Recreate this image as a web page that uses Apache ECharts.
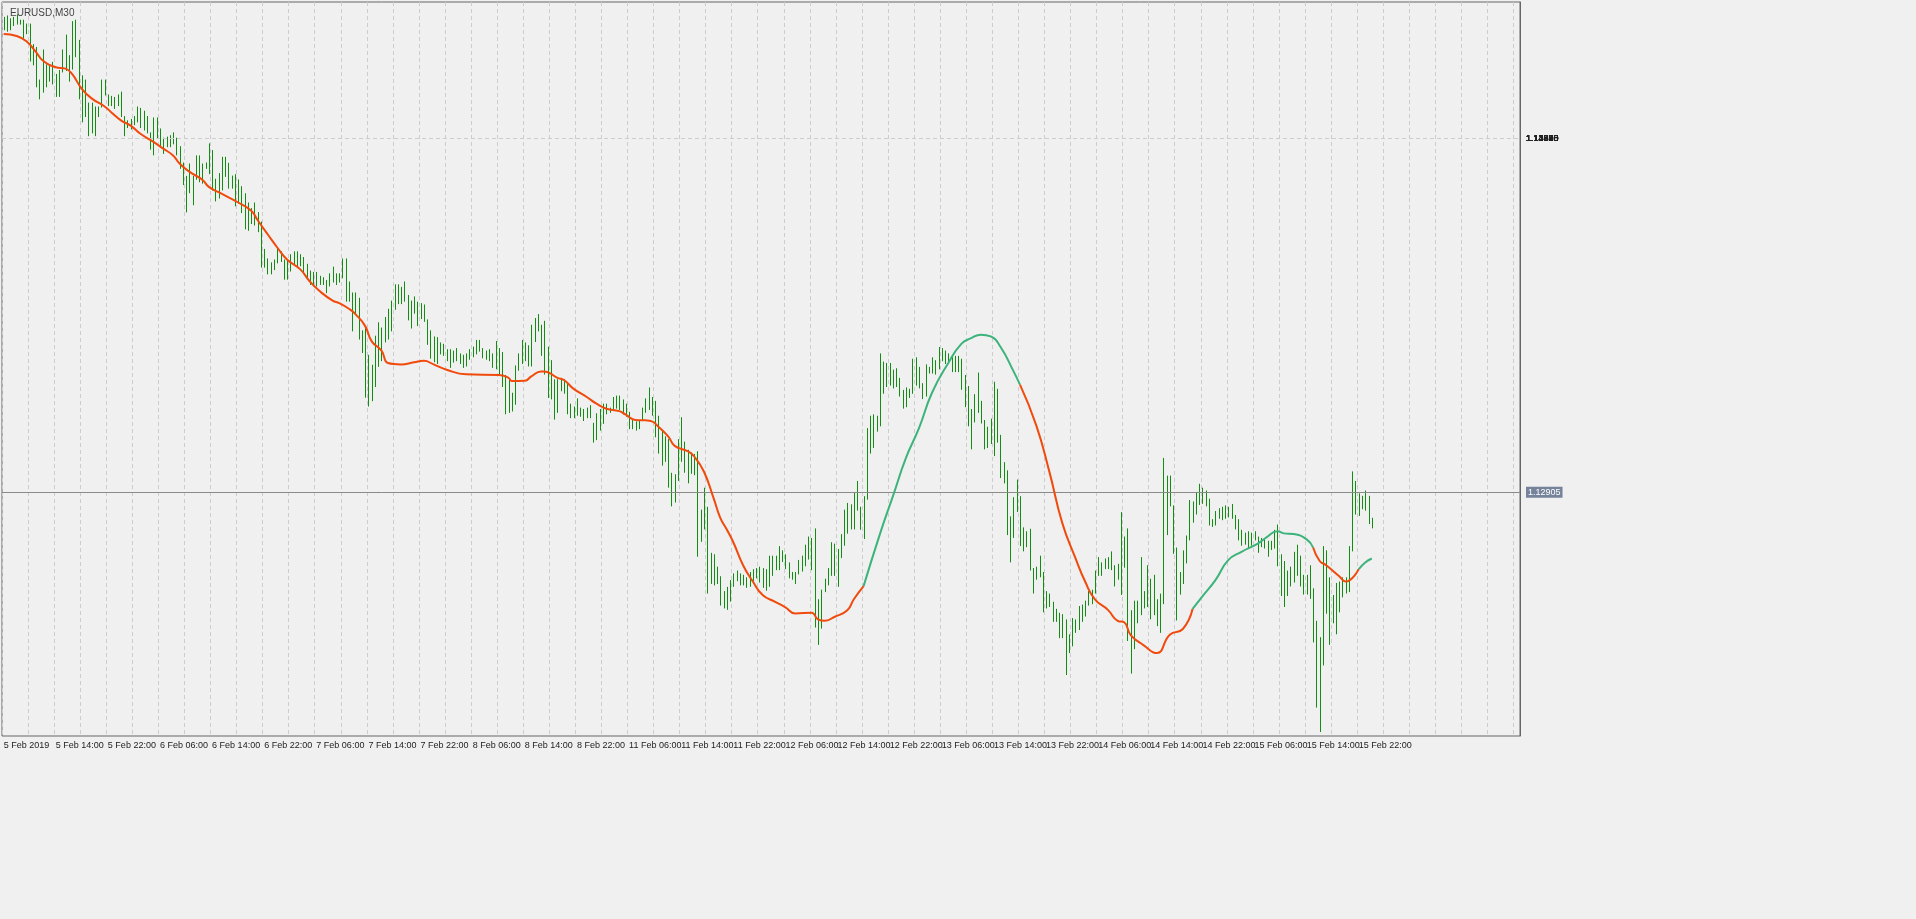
<!DOCTYPE html>
<html>
<head>
<meta charset="utf-8">
<script src="https://cdn.jsdelivr.net/npm/echarts@6/dist/echarts.min.js"></script>
<style>
html, body { margin: 0; padding: 0; background: #f0f0f0; }
#chart { width: 1916px; height: 919px; }
</style>
</head>
<body>
<div id="chart"></div>
<script>
// EURUSD M30, prices in points (1e-5)
const highPts = [
114342,114346,114338,114342,114349,114334,114334,114323,114323,114265,114257,114165,114250,114208,114204,114215,
114181,114192,114250,114292,114234,114330,114334,114277,114177,114165,114100,114100,114089,114089,114165,114165,
114123,114119,114116,114123,114131,114062,114050,114054,114062,114089,114085,114077,114062,114016,114058,114058,
114027,114001,114004,114008,114016,114001,113977,113931,113893,113928,113893,113951,113951,113928,113931,113985,
113966,113885,113901,113947,113947,113930,113894,113898,113883,113864,113844,113818,113802,113818,113791,113764,
113687,113660,113649,113657,113691,113680,113657,113653,113672,113680,113680,113672,113664,113645,113626,113622,
113622,113611,113607,113599,113618,113637,113618,113618,113660,113660,113595,113564,113564,113549,113457,113465,
113388,113360,113442,113480,113465,113495,113518,113541,113587,113587,113580,113595,113557,113541,113553,113538,
113534,113530,113488,113457,113440,113438,113423,113419,113404,113404,113400,113407,113392,113388,113392,113404,
113411,113430,113430,113407,113400,113404,113392,113427,113407,113396,113331,113319,113281,113358,113392,113430,
113423,113415,113473,113492,113503,113473,113484,113411,113373,113319,113319,113323,113319,113311,113250,113242,
113265,113239,113235,113239,113246,113196,113223,113235,113250,113250,113239,113269,113273,113273,113262,113250,
113227,113204,113200,113204,113239,113265,113296,113269,113258,113216,113173,113158,113150,113055,113051,113150,
113212,113143,113120,113112,113108,113116,112951,113013,112959,112829,112825,112790,112763,112721,112733,112752,
112771,112779,112771,112767,112760,112775,112783,112786,112790,112786,112783,112821,112821,112821,112848,112836,
112825,112802,112775,112775,112809,112821,112852,112875,112871,112898,112698,112725,112756,112786,112859,112855,
112840,112882,112951,112970,112966,113001,113032,112959,112989,113181,113216,113220,113216,113392,113369,113365,
113365,113346,113350,113323,113289,113296,113292,113377,113381,113354,113308,113361,113354,113381,113373,113410,
113407,113400,113392,113388,113385,113385,113377,113331,113300,113235,113277,113338,113258,113204,113185,113208,
113312,113292,113162,113085,113062,112932,112986,113036,112989,112901,112890,112897,112786,112790,112821,112775,
112721,112714,112691,112671,112660,112656,112641,112599,112645,112641,112679,112683,112694,112721,112725,112779,
112817,112802,112813,112817,112833,112794,112798,112944,112875,112898,112667,112694,112694,112817,112721,112794,
112756,112767,112698,112714,113097,113047,113047,112963,112844,112775,112836,112878,112978,112974,113001,113024,
113013,113005,112982,112924,112947,112955,112959,112963,112959,112967,112936,112924,112894,112886,112890,112886,
112890,112875,112871,112867,112863,112863,112894,112909,112825,112806,112779,112790,112832,112852,112821,112767,
112767,112794,112729,112637,112591,112848,112836,112760,112710,112744,112748,112760,112760,112848,113059,113032,
112997,112990,113005,112990,112928
];
const lowPts = [
114307,114303,114307,114319,114323,114323,114284,114296,114219,114208,114146,114112,114131,114146,114162,114154,
114119,114119,114188,114192,114162,114196,114231,114112,114047,114062,114008,114016,114008,114062,114089,114123,
114093,114093,114085,114093,114062,114008,114031,114027,114039,114047,114031,114024,114016,113970,113954,114001,
113977,113958,113977,113977,113985,113954,113916,113870,113793,113847,113813,113885,113878,113874,113916,113901,
113855,113824,113832,113855,113893,113860,113860,113810,113818,113791,113745,113741,113760,113756,113737,113637,
113637,113618,113618,113630,113649,113653,113603,113603,113626,113645,113637,113641,113622,113603,113588,113584,
113584,113588,113588,113565,113584,113595,113588,113595,113607,113541,113541,113457,113503,113434,113396,113270,
113245,113260,113300,113357,113373,113426,113434,113457,113518,113534,113534,113541,113488,113465,113507,113472,
113492,113484,113419,113380,113370,113365,113392,113388,113373,113354,113369,113373,113365,113354,113358,113377,
113384,113392,113400,113381,113377,113373,113354,113350,113335,113300,113223,113227,113231,113250,113346,113365,
113373,113358,113358,113427,113457,113388,113335,113269,113265,113208,113227,113288,113281,113223,113212,113212,
113219,113216,113204,113212,113212,113143,113150,113177,113196,113223,113227,113235,113239,113235,113223,113216,
113181,113181,113177,113181,113204,113227,113235,113219,113158,113112,113078,113089,113016,112963,112974,113035,
113089,113058,113028,113055,113051,112821,112863,112898,112717,112744,112740,112744,112683,112675,112671,112694,
112736,112752,112740,112740,112733,112736,112752,112760,112748,112733,112725,112736,112767,112783,112783,112806,
112786,112760,112756,112744,112771,112779,112794,112813,112783,112621,112572,112618,112721,112740,112767,112767,
112736,112817,112852,112886,112898,112898,112951,112897,112871,112982,113112,113128,113174,113189,113281,113300,
113304,113296,113300,113273,113239,113243,113269,113281,113304,113296,113266,113273,113338,113338,113335,113350,
113373,113365,113369,113342,113342,113342,113292,113243,113189,113124,113200,113227,113197,113124,113128,113139,
113105,113143,113043,113028,112882,112805,112874,112947,112851,112836,112848,112782,112717,112756,112763,112664,
112675,112679,112637,112637,112591,112591,112487,112549,112568,112606,112614,112637,112652,112683,112687,112717,
112767,112767,112786,112786,112783,112737,112756,112713,112790,112583,112491,112560,112633,112656,112675,112679,
112644,112656,112625,112606,112687,112882,112963,112829,112641,112714,112744,112802,112867,112917,112940,112967,
112970,112963,112909,112905,112909,112928,112924,112928,112932,112928,112898,112867,112852,112855,112844,112852,
112867,112832,112848,112844,112821,112840,112844,112794,112710,112679,112710,112737,112748,112767,112737,112714,
112714,112702,112579,112395,112326,112514,112660,112572,112633,112602,112664,112706,112717,112721,112836,112940,
112936,112955,112951,112913,112901
];

// moving average, read at sampled bars
const maIdx = [0,4,7,10,12,16,19,21,24,27,31,33,36,39,42,46,49,52,54,57,61,63,66,
  72,76,78,81,84,87,91,94,97,101,103,106,108,111,113,116,118,122,126,129,132,
  136,142,152,155,156,160,162,165,166,170,172,175,179,182,185,189,191,194,197,
  199,201,204,206,210,212,215,218,220,222,224,227,230,233,237,240,243,248,250,252,255,259,261,264,
  269,273,277,281,285,290,294,297,300,303,306,310,312,317,321,325,329,332,335,339,342,344,
  346,350,354,358,362,365,368,372,376,380,385,388,391,393,396,400,402,404,406,410,412,416,418,420];
const maPts = [114294,114288,114273,114242,114219,114200,114196,114181,114139,114112,114089,114073,114050,114035,114012,113989,113970,113951,113928,113905,113882,113862,113847,
  113818,113795,113768,113729,113691,113657,113630,113595,113568,113541,113534,113518,113503,113469,113426,113400,113365,113361,113367,113371,113361,
  113346,113333,113331,113323,113314,113315,113327,113341,113341,113323,113317,113292,113269,113250,113236,113229,113219,113204,113203,
  113200,113185,113158,113131,113116,113101,113058,112982,112928,112895,112859,112794,112748,112710,112690,112675,112658,112660,112641,112637,112648,112667,112698,112735,
  112882,112989,113097,113181,113281,113365,113419,113435,113445,113440,113411,113342,113304,113189,113059,112913,112815,112748,112698,112668,112637,112633,
  112597,112568,112546,112598,112614,112671,112706,112752,112809,112832,112855,112875,112890,112884,112882,112867,112844,112806,112794,112763,112748,112783,112802,112813];
// colour state of the MA: [from bar, to bar, trend]
const maRuns = [[0, 264, 'down'], [264, 312, 'up'], [312, 365, 'down'], [365, 402, 'up'], [402, 416, 'down'], [416, 420, 'up']];

const lastPrice = 1.12905;
const yTicks = [1.12395,1.12470,1.12545,1.12620,1.12695,1.12770,1.12845,1.12920,1.12995,1.13070,1.13145,1.13220,1.13295,
  1.13370,1.13445,1.13520,1.13595,1.13670,1.13745,1.13820,1.13895,1.13970,1.14045,1.14120,1.14195,1.14270,1.14345];
const xLabels = ['5 Feb 2019','5 Feb 14:00','5 Feb 22:00','6 Feb 06:00','6 Feb 14:00','6 Feb 22:00','7 Feb 06:00','7 Feb 14:00',
  '7 Feb 22:00','8 Feb 06:00','8 Feb 14:00','8 Feb 22:00','11 Feb 06:00','11 Feb 14:00','11 Feb 22:00','12 Feb 06:00',
  '12 Feb 14:00','12 Feb 22:00','13 Feb 06:00','13 Feb 14:00','13 Feb 22:00','14 Feb 06:00','14 Feb 14:00','14 Feb 22:00',
  '15 Feb 06:00','15 Feb 14:00','15 Feb 22:00'];
const slots = 466;

const cats = [];
for (let i = 0; i < slots; i++) cats.push(i);
const bars = highPts.map((h, i) => [i, h / 1e5, lowPts[i] / 1e5]);

const maSeries = maRuns.map(r => ({
    type: 'line',
    smooth: true,
    symbol: 'none',
    silent: true,
    z: 5,
    lineStyle: { width: 2, color: r[2] == 'down' ? '#f04a0c' : '#3cb37a' },
    data: maIdx.map((x, k) => [x, maPts[k] / 1e5]).filter(p => p[0] >= r[0] && p[0] <= r[1])
}));

const gridMarks = yTicks.map(v => ({
    yAxis: v,
    lineStyle: { color: '#cdcdcd', type: [4, 3], width: 1 },
    label: { formatter: v.toFixed(5) }
}));
gridMarks.push({
    yAxis: lastPrice,
    lineStyle: { color: '#8a8a8a', type: 'solid', width: 1 },
    label: { formatter: lastPrice.toFixed(5), color: '#fff', backgroundColor: '#75849a', padding: [1, 2] }
});

const chart = echarts.init(document.getElementById('chart'));
chart.setOption({
    animation: false,
    backgroundColor: '#f0f0f0',
    textStyle: { fontFamily: 'Liberation Sans' },
    title: { text: 'EURUSD,M30', left: 5, top: 3, textStyle: { fontSize: 10, fontWeight: 'normal', color: '#444', fontFamily: 'Liberation Sans' } },
    grid: { left: 2, top: 2, right: 396, bottom: 183, show: true, borderColor: '#666', borderWidth: 1 },
    xAxis: {
        type: 'category',
        data: cats,
        boundaryGap: true,
        axisLine: { show: false },
        axisTick: { show: false },
        axisLabel: {
            interval: 15,
            showMinLabel: true,
            hideOverlap: false,
            fontSize: 9,
            color: '#222',
            align: 'left',
            margin: 5,
            formatter: (v, idx) => xLabels[idx / 16] || ''
        },
        splitLine: { show: true, interval: 7, lineStyle: { color: '#cdcdcd', type: [4, 3] } }
    },
    yAxis: {
        type: 'value',
        position: 'right',
        min: 1.12312,
        max: 1.14384,
        axisLine: { show: true, lineStyle: { color: '#666' } },
        axisTick: { show: false },
        axisLabel: { show: false },
        splitLine: { show: false }
    },
    series: [{
        type: 'line',
        data: [],
        silent: true,
        markLine: {
            silent: true,
            symbol: 'none',
            animation: false,
            label: { position: 'end', fontSize: 9, color: '#222', distance: 6, fontFamily: 'Liberation Sans' },
            data: gridMarks
        }
    }, {
        type: 'custom',
        z: 3,
        renderItem: (params, api) => {
            const top = api.coord([api.value(0), api.value(1)]);
            const bot = api.coord([api.value(0), api.value(2)]);
            const x = Math.round(top[0]) + 0.5;
            return {
                type: 'line',
                shape: { x1: x, y1: top[1], x2: x, y2: bot[1] + 1 },
                style: { stroke: '#128c12', lineWidth: 1 }
            };
        },
        encode: { x: 0, y: [1, 2] },
        data: bars
    }].concat(maSeries)
});
</script>
</body>
</html>
